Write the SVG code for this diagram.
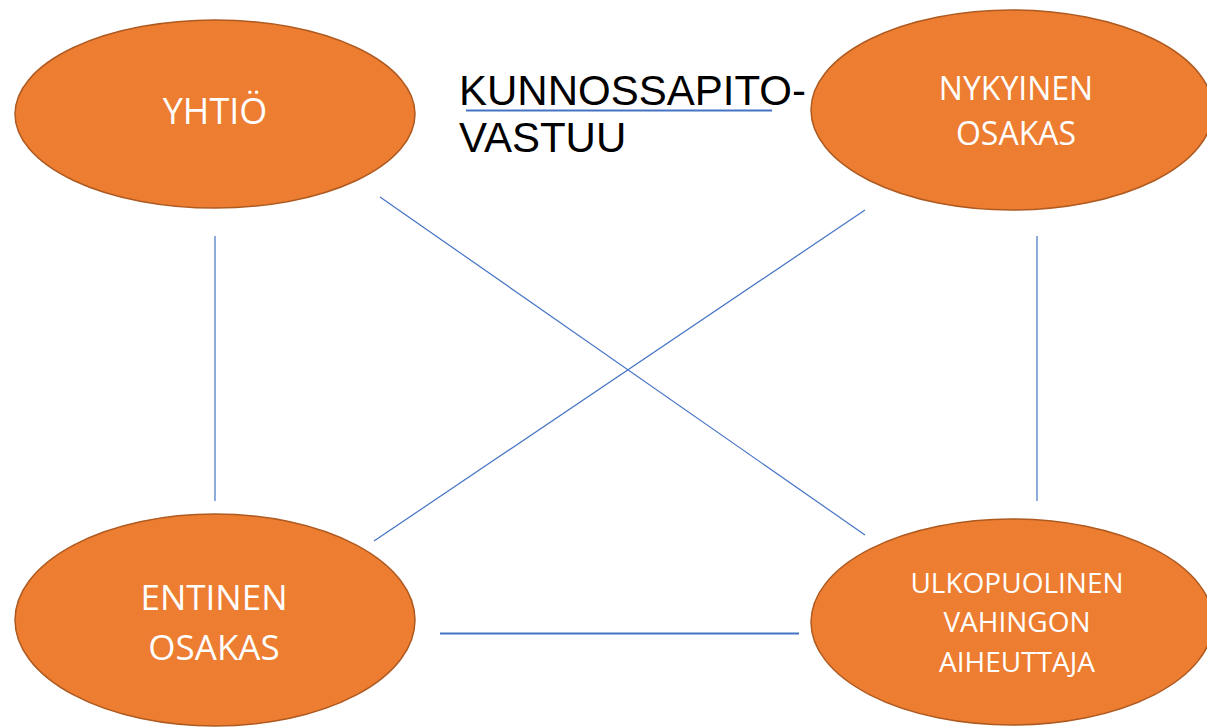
<svg xmlns="http://www.w3.org/2000/svg" width="1207" height="727" viewBox="0 0 1207 727">
<style>
.node{fill:#ED7D31;stroke:#AE5A21;stroke-width:1.5}
.lbl{fill:#FFFFFF;font-family:"Open Sans","Noto Sans",sans-serif;text-anchor:middle}
.conn{stroke:#4472C4;stroke-width:1.2;fill:none}
.title{fill:#000000;font-family:"Liberation Sans",Arial,sans-serif;font-size:42px}
</style>
<rect width="1207" height="727" fill="#FFFFFF"/>
<g id="connectors">
<line class="conn" x1="215" y1="236" x2="215" y2="501"/>
<line class="conn" x1="1037" y1="236" x2="1037" y2="501"/>
<line class="conn" x1="380" y1="197" x2="865" y2="535"/>
<line class="conn" x1="865" y1="210" x2="374" y2="541"/>
<line class="conn" x1="440" y1="633.5" x2="799" y2="633.5" style="stroke-width:2"/>
</g>
<g id="title">
<text class="title" x="459" y="105">KUNNOSSAPITO-</text>
<text class="title" x="459" y="152">VASTUU</text>
<line x1="466" y1="110.5" x2="772" y2="110.5" stroke="#4472C4" stroke-width="2"/>
</g>
<g id="yhtio">
<ellipse class="node" cx="215" cy="114" rx="200" ry="94"/>
<text class="lbl" x="215" y="124" font-size="36">YHTIÖ</text>
</g>
<g id="nykyinen">
<ellipse class="node" cx="1012" cy="110" rx="201" ry="100"/>
<text class="lbl" x="1016" y="100" font-size="32">NYKYINEN</text>
<text class="lbl" x="1016" y="145" font-size="32">OSAKAS</text>
</g>
<g id="entinen">
<ellipse class="node" cx="215" cy="620" rx="200" ry="106"/>
<text class="lbl" x="214" y="610" font-size="35">ENTINEN</text>
<text class="lbl" x="214" y="660" font-size="35">OSAKAS</text>
</g>
<g id="ulkopuolinen">
<ellipse class="node" cx="1012" cy="622" rx="201" ry="103"/>
<text class="lbl" x="1017" y="593" font-size="28">ULKOPUOLINEN</text>
<text class="lbl" x="1017" y="632" font-size="28">VAHINGON</text>
<text class="lbl" x="1017" y="672" font-size="28">AIHEUTTAJA</text>
</g>
</svg>
